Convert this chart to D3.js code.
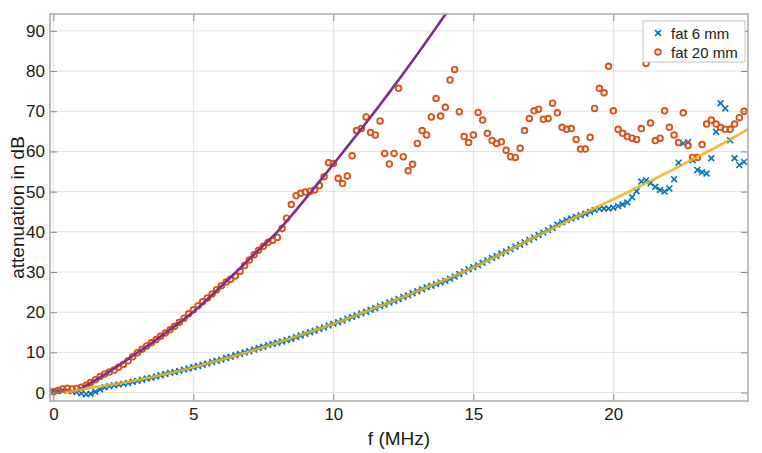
<!DOCTYPE html>
<html>
<head>
<meta charset="utf-8">
<script src="https://cdn.jsdelivr.net/npm/d3@7"></script>
<style>
  body { margin: 0; background: #fff; }
  text { font-family: "Liberation Sans", Arial, Helvetica, sans-serif; fill: #1a1a1a; }
</style>
</head>
<body>
<div id="chart"></div>
<script>
const width = 762;
const height = 453;

// frequency grid of the measurement (MHz)
const freq = [
  0, 0.17, 0.33, 0.5, 0.67, 0.83, 1, 1.17, 1.33, 1.5, 1.67, 1.83,
  2, 2.17, 2.33, 2.5, 2.67, 2.83, 3, 3.17, 3.33, 3.5, 3.67, 3.83,
  4, 4.17, 4.33, 4.5, 4.67, 4.83, 5, 5.17, 5.33, 5.5, 5.67, 5.83,
  6, 6.17, 6.33, 6.5, 6.67, 6.83, 7, 7.17, 7.33, 7.5, 7.67, 7.83,
  8, 8.17, 8.33, 8.5, 8.67, 8.83, 9, 9.17, 9.33, 9.5, 9.67, 9.83,
  10, 10.17, 10.33, 10.5, 10.67, 10.83, 11, 11.17, 11.33, 11.5, 11.67, 11.83,
  12, 12.17, 12.33, 12.5, 12.67, 12.83, 13, 13.17, 13.33, 13.5, 13.67, 13.83,
  14, 14.17, 14.33, 14.5, 14.67, 14.83, 15, 15.17, 15.33, 15.5, 15.67, 15.83,
  16, 16.17, 16.33, 16.5, 16.67, 16.83, 17, 17.17, 17.33, 17.5, 17.67, 17.83,
  18, 18.17, 18.33, 18.5, 18.67, 18.83, 19, 19.17, 19.33, 19.5, 19.67, 19.83,
  20, 20.17, 20.33, 20.5, 20.67, 20.83, 21, 21.17, 21.33, 21.5, 21.67, 21.83,
  22, 22.17, 22.33, 22.5, 22.67, 22.83, 23, 23.17, 23.33, 23.5, 23.67, 23.83,
  24, 24.17, 24.33, 24.5, 24.67
];

// fat 6 mm (dB)
const fat6 = [
  0.3, 0.4, 0.6, 0.5, 0.3, 0.1, -0.2, -0.4, -0.3, 0.2, 0.8, 1.3,
  1.6, 1.8, 2.0, 2.2, 2.4, 2.7, 2.9, 3.2, 3.5, 3.7, 4.0, 4.3,
  4.6, 4.9, 5.1, 5.4, 5.7, 6.0, 6.3, 6.6, 6.9, 7.2, 7.6, 7.9,
  8.2, 8.6, 8.9, 9.3, 9.6, 10.0, 10.3, 10.7, 11.1, 11.4, 11.8, 12.1,
  12.4, 12.7, 13.1, 13.4, 13.8, 14.2, 14.6, 15.0, 15.4, 15.8, 16.2, 16.7,
  17.1, 17.5, 17.9, 18.4, 18.8, 19.2, 19.7, 20.1, 20.6, 21.0, 21.5, 21.9,
  22.4, 22.8, 23.3, 23.8, 24.2, 24.7, 25.2, 25.7, 26.2, 26.6, 27.0, 27.4,
  27.8, 28.3, 28.9, 29.5, 30.1, 30.7, 31.2, 31.7, 32.3, 32.9, 33.5, 34.0,
  34.6, 35.1, 35.7, 36.3, 36.8, 37.4, 38.0, 38.6, 39.2, 39.8, 40.4, 41.0,
  41.8, 42.4, 42.9, 43.3, 43.7, 44.1, 44.5, 45.0, 45.4, 45.7, 45.8, 45.8,
  46.0, 46.4, 46.8, 47.3, 48.6, 50.1, 52.5, 52.8, 52.1, 51.2, 50.4, 50.0,
  50.8, 53.1, 57.2, 62.0, 62.3, 57.8, 55.4, 54.8, 54.5, 58.3, 64.9, 72.0,
  70.7, 62.8, 58.3, 56.6, 57.4
];

// fat 20 mm (dB)
const fat20 = [
  0.2, 0.5, 0.9, 1.1, 0.9, 1.0, 1.3, 1.8, 2.5, 3.2, 4.0, 4.6,
  5.1, 5.6, 6.3, 7.0, 7.9, 8.9, 9.9, 10.8, 11.6, 12.4, 13.2, 14.0,
  14.8, 15.6, 16.5, 17.5, 18.5, 19.6, 20.6, 21.6, 22.6, 23.5, 24.5, 25.6,
  26.6, 27.5, 28.2, 29.0, 30.2, 31.6, 33.0, 34.3, 35.4, 36.4, 37.4, 37.9,
  38.6, 40.8, 43.4, 46.8, 49.0, 49.6, 49.9, 50.1, 50.4, 51.5, 53.7, 57.2,
  57.0, 53.3, 52.0, 53.9, 58.9, 65.2, 65.7, 68.6, 64.7, 64.1, 67.6, 59.5,
  56.9, 59.5, 75.7, 58.7, 55.2, 56.8, 62.0, 65.2, 64.1, 68.6, 73.2, 68.8,
  71.0, 77.8, 80.4, 69.9, 63.7, 62.2, 64.1, 69.7, 67.8, 64.5, 62.7, 62.0,
  62.4, 60.3, 58.7, 58.5, 60.8, 65.2, 68.2, 70.1, 70.5, 68.0, 68.2, 72.0,
  69.6, 66.0, 65.5, 65.7, 63.0, 60.6, 60.6, 63.5, 70.7, 75.7, 74.6, 81.2,
  70.1, 65.5, 64.5, 63.7, 63.3, 63.0, 65.7, 81.9, 67.1, 62.7, 63.3, 70.1,
  66.0, 64.1, 62.2, 69.6, 61.5, 58.5, 58.5, 61.7, 66.8, 67.8, 66.8, 66.0,
  65.5, 65.5, 66.8, 68.4, 70.0
];

// fitted curves
const fit6F  = [0.4, 1, 2, 3, 4, 5, 6, 7, 8, 9, 10, 11, 12, 13, 14, 15, 16, 17, 18, 19, 20, 21, 22, 23, 24, 24.8];
const fit6Db = [-0.1, 0.8, 1.9, 3.1, 4.6, 6.3, 8.2, 10.2, 12.4, 14.7, 17.1, 19.7, 22.4, 25.2, 28.1, 31.1, 34.5, 38.0, 41.4, 44.8, 48.1, 51.5, 55.0, 58.6, 62.3, 65.5];
const fit20F  = [0.6, 1, 1.5, 2, 2.5, 3, 3.5, 4, 4.5, 5, 5.5, 6, 6.5, 7, 7.5, 8, 8.5, 9, 9.5, 10, 10.5, 11, 11.5, 12, 12.5, 13, 13.5, 14, 14.5];
const fit20Db = [0, 1.1, 3.1, 5.2, 7.5, 9.9, 12.3, 14.8, 17.4, 20.1, 23.2, 26.5, 29.8, 33.2, 36.6, 40.0, 44.0, 48.2, 52.5, 56.8, 61.2, 65.6, 70.1, 74.7, 79.4, 84.2, 89.1, 94.1, 99.2];

const xTicks = [0, 5, 10, 15, 20];
const yTicks = [0, 10, 20, 30, 40, 50, 60, 70, 80, 90];
const legendLabels = ["fat 6 mm", "fat 20 mm"];

const pl = 50, pr = 748, pt = 14, pb = 401;

const svg = d3.select("#chart")
  .append("svg")
  .attr("width", width)
  .attr("height", height);

svg.append("rect").attr("width", width).attr("height", height).attr("fill", "#fff");

const x = d3.scaleLinear().domain([-0.12, 24.81]).range([pl, pr]);
const y = d3.scaleLinear().domain([-2.1, 94.2]).range([pb, pt]);

// grid
svg.append("g").selectAll("line")
  .data(xTicks).enter().append("line")
  .attr("x1", d => x(d)).attr("x2", d => x(d))
  .attr("y1", pt).attr("y2", pb)
  .attr("stroke", "#e2e2e2");
svg.append("g").selectAll("line")
  .data(yTicks).enter().append("line")
  .attr("x1", pl).attr("x2", pr)
  .attr("y1", d => y(d)).attr("y2", d => y(d))
  .attr("stroke", "#e2e2e2");

// data
svg.append("clipPath").attr("id", "clip")
  .append("rect").attr("x", pl).attr("y", pt)
  .attr("width", pr - pl).attr("height", pb - pt);
const plot = svg.append("g").attr("clip-path", "url(#clip)");

const blue = "#0072BD", orange = "#D95319", purple = "#7E2F8E", yellow = "#EDB120";
const cross = "M-2.9,-2.9L2.9,2.9M-2.9,2.9L2.9,-2.9";

plot.append("g").selectAll("path")
  .data(freq.map((f, i) => [f, fat6[i]])).enter().append("path")
  .attr("transform", d => `translate(${x(d[0])},${y(d[1])})`)
  .attr("d", cross)
  .attr("fill", "none")
  .attr("stroke", blue)
  .attr("stroke-width", 1.6);

plot.append("g").selectAll("circle")
  .data(freq.map((f, i) => [f, fat20[i]])).enter().append("circle")
  .attr("cx", d => x(d[0]))
  .attr("cy", d => y(d[1]))
  .attr("r", 2.8)
  .attr("fill", "none")
  .attr("stroke", orange)
  .attr("stroke-width", 1.9);

const line = d3.line().x(d => x(d[0])).y(d => y(d[1])).curve(d3.curveMonotoneX);

plot.append("path")
  .datum(fit20F.map((f, i) => [f, fit20Db[i]]))
  .attr("d", line)
  .attr("fill", "none")
  .attr("stroke", purple)
  .attr("stroke-width", 2.6);

plot.append("path")
  .datum(fit6F.map((f, i) => [f, fit6Db[i]]))
  .attr("d", line)
  .attr("fill", "none")
  .attr("stroke", yellow)
  .attr("stroke-width", 2.8)
  .attr("stroke-opacity", 0.85);

// axes
const axisColor = "#a8a8a8";
const styleAxis = g => {
  g.select(".domain").remove();
  g.selectAll(".tick line").attr("stroke", "#8a8a8a");
  g.selectAll(".tick text").style("font-size", "17px").attr("fill", "#1a1a1a");
};

svg.append("g")
  .attr("transform", `translate(0,${pb})`)
  .call(d3.axisBottom(x).tickValues(xTicks).tickSizeInner(-7).tickSizeOuter(0).tickPadding(7))
  .call(styleAxis);
svg.append("g")
  .attr("transform", `translate(${pl},0)`)
  .call(d3.axisLeft(y).tickValues(yTicks).tickSizeInner(-7).tickSizeOuter(0).tickPadding(5))
  .call(styleAxis);
svg.append("g")
  .attr("transform", `translate(0,${pt})`)
  .call(d3.axisTop(x).tickValues(xTicks).tickSizeInner(-7).tickSizeOuter(0).tickFormat(""))
  .call(styleAxis);
svg.append("g")
  .attr("transform", `translate(${pr},0)`)
  .call(d3.axisRight(y).tickValues(yTicks).tickSizeInner(-7).tickSizeOuter(0).tickFormat(""))
  .call(styleAxis);

svg.append("rect")
  .attr("x", pl).attr("y", pt)
  .attr("width", pr - pl).attr("height", pb - pt)
  .attr("fill", "none")
  .attr("stroke", axisColor)
  .attr("stroke-width", 1.5);

// labels
svg.append("text")
  .attr("x", (pl + pr) / 2).attr("y", 445)
  .attr("text-anchor", "middle")
  .style("font-size", "19px")
  .text("f (MHz)");
svg.append("text")
  .attr("transform", `translate(24,${(pt + pb) / 2}) rotate(-90)`)
  .attr("text-anchor", "middle")
  .style("font-size", "19px")
  .text("attenuation in dB");

// legend
const lg = svg.append("g");
lg.append("rect")
  .attr("x", 643).attr("y", 21).attr("width", 102).attr("height", 41)
  .attr("fill", "#fff").attr("stroke", "#c4c4c4");
lg.append("path")
  .attr("transform", "translate(658,33)")
  .attr("d", cross).attr("fill", "none")
  .attr("stroke", blue).attr("stroke-width", 1.6);
lg.append("circle")
  .attr("cx", 658).attr("cy", 52).attr("r", 2.8)
  .attr("fill", "none").attr("stroke", orange).attr("stroke-width", 1.9);
lg.selectAll("text.leg")
  .data(legendLabels).enter().append("text")
  .attr("class", "leg")
  .attr("x", 671)
  .attr("y", (d, i) => 38.5 + i * 19)
  .style("font-size", "15px")
  .text(d => d);
</script>
</body>
</html>
